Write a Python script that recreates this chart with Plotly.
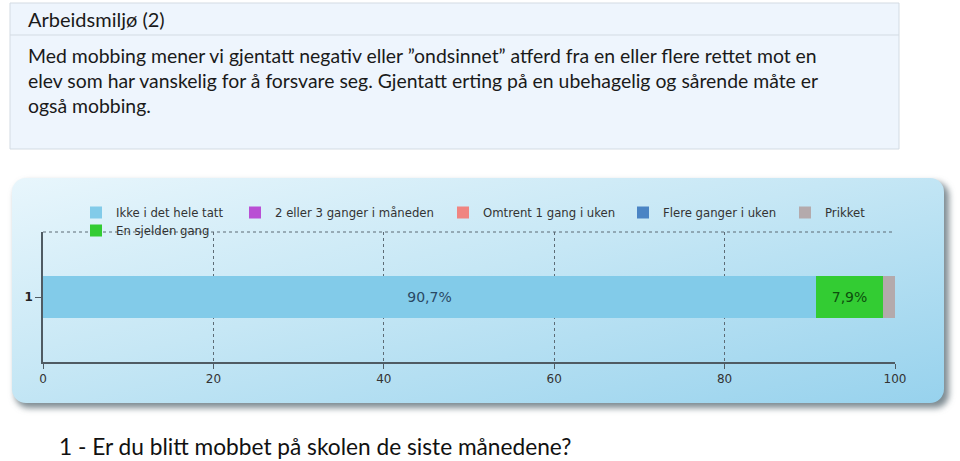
import base64
import plotly.graph_objects as go

# answers (percent of pupils)
categories = ["1"]
series_names = ["Ikke i det hele tatt", "2 eller 3 ganger i måneden", "Omtrent 1 gang i uken",
                "Flere ganger i uken", "En sjelden gang", "Prikket"]
series_values = [90.7, 0.0, 0.0, 0.0, 7.9, 1.4]
colors = ["#82cbe9", "#b94fd4", "#f08581", "#4a84c4", "#33cc33", "#b4aaac"]
text_colors = ["#2a4864", "#333333", "#333333", "#333333", "#0d4f0d", "#333333"]
x_ticks = [0, 20, 40, 60, 80, 100]

W, H = 960, 461
L, R, T, B = 43, 895, 232, 362


def px(x):
    return (x - L) / (R - L)


def py(y):
    return (B - y) / (B - T)


# one legend per entry so the spacing follows the original
legend_ids = ["legend", "legend2", "legend3", "legend4", "legend6", "legend5"]
legend_pos = {"legend": (76, 198), "legend2": (235, 198), "legend3": (443, 198),
              "legend4": (623, 198), "legend5": (785, 198), "legend6": (76, 216)}

fig = go.Figure()
for name, val, leg, col, tcol in zip(series_names, series_values, legend_ids, colors, text_colors):
    lbl = (f"{val:.1f}%".replace(".", ",")) if val >= 5 else ""
    fig.add_trace(go.Bar(
        y=categories, x=[val], name=name, orientation="h",
        marker=dict(color=col, line=dict(width=0)),
        text=[lbl], textposition="inside", insidetextanchor="middle",
        textfont=dict(family="DejaVu Sans", size=14, color=tcol),
        legend=leg, width=0.32,
    ))

# panel background (rounded, gradient, shadow)
svg = f"""<svg xmlns="http://www.w3.org/2000/svg" width="{W}" height="{H}" viewBox="0 0 {W} {H}">
<defs>
<linearGradient id="g" x1="0" y1="0" x2="1" y2="1">
<stop offset="0" stop-color="#e8f6fc"/><stop offset="0.45" stop-color="#c6e7f5"/><stop offset="1" stop-color="#97d2ed"/>
</linearGradient>
<filter id="s" x="-5%" y="-10%" width="110%" height="130%"><feGaussianBlur stdDeviation="3"/></filter>
</defs>
<rect x="15" y="182" width="934" height="226" rx="14" ry="14" fill="#7f8c93" filter="url(#s)"/>
<rect x="12" y="178" width="932" height="225" rx="14" ry="14" fill="url(#g)"/>
</svg>"""
src = "data:image/svg+xml;base64," + base64.b64encode(svg.encode()).decode()

shapes = [
    dict(type="rect", xref="paper", yref="paper", x0=px(10), x1=px(899), y0=py(3), y1=py(149),
         fillcolor="#eef5fd", line=dict(color="#d3dbe3", width=1), layer="below"),
    dict(type="line", xref="paper", yref="paper", x0=px(10), x1=px(899), y0=py(35), y1=py(35),
         line=dict(color="#d3dbe3", width=1)),
    dict(type="line", xref="paper", yref="paper", x0=0, x1=1, y0=1, y1=1,
         line=dict(color="#5d6b75", width=1, dash="dot")),
]

body = ("Med mobbing mener vi gjentatt negativ eller ”ondsinnet” atferd fra en eller flere rettet mot en<br>"
        "elev som har vanskelig for å forsvare seg. Gjentatt erting på en ubehagelig og sårende måte er<br>"
        "også mobbing.")
annotations = [
    dict(text="Arbeidsmiljø (2)", xref="paper", yref="paper", x=px(26), y=py(19),
         xanchor="left", yanchor="middle", showarrow=False,
         font=dict(family="Lato", size=20, color="#1a1a1a")),
    dict(text=body, xref="paper", yref="paper", x=px(26), y=py(42), align="left",
         xanchor="left", yanchor="top", showarrow=False,
         font=dict(family="Lato", size=19.4, color="#1a1a1a")),
    dict(text="1 - Er du blitt mobbet på skolen de siste månedene?", xref="paper", yref="paper",
         x=px(57), y=py(446), xanchor="left", yanchor="middle", showarrow=False,
         font=dict(family="Lato", size=22.7, color="#111111")),
]

legend_style = dict(orientation="h", xanchor="left", yanchor="top", bgcolor="rgba(0,0,0,0)",
                    font=dict(family="DejaVu Sans", size=11.7, color="#333"),
                    traceorder="normal", itemclick=False, itemdoubleclick=False)
legends = {k: dict(x=px(x), y=py(y), **legend_style) for k, (x, y) in legend_pos.items()}

fig.update_layout(
    barmode="stack",
    width=W, height=H,
    margin=dict(l=L, r=W - R, t=T, b=H - B, pad=0),
    paper_bgcolor="white", plot_bgcolor="rgba(0,0,0,0)",
    images=[dict(source=src, xref="paper", yref="paper", x=px(0), y=py(0),
                 sizex=W / (R - L), sizey=H / (B - T), sizing="stretch",
                 xanchor="left", yanchor="top", layer="below")],
    shapes=shapes, annotations=annotations,
    bargap=0,
    showlegend=True,
    **legends,
)
fig.update_xaxes(range=[0, 100], tickvals=x_ticks, showgrid=True, gridcolor="#5d6b75", griddash="dot",
                 gridwidth=1, showline=True, linecolor="#4f5b63", linewidth=1.5, ticks="outside",
                 ticklen=5, tickcolor="#4f5b63", zeroline=False,
                 tickfont=dict(family="DejaVu Sans", size=12, color="#333"))
fig.update_yaxes(range=[-0.5, 0.5], showgrid=False, showline=True, linecolor="#4f5b63", linewidth=1.5,
                 ticks="outside", ticklen=6, tickcolor="#4f5b63",
                 tickfont=dict(family="DejaVu Sans", size=12, color="#222", weight="bold"))

fig.write_html("out.html", config={"displayModeBar": False},
               post_script="document.body.style.margin='0';")
